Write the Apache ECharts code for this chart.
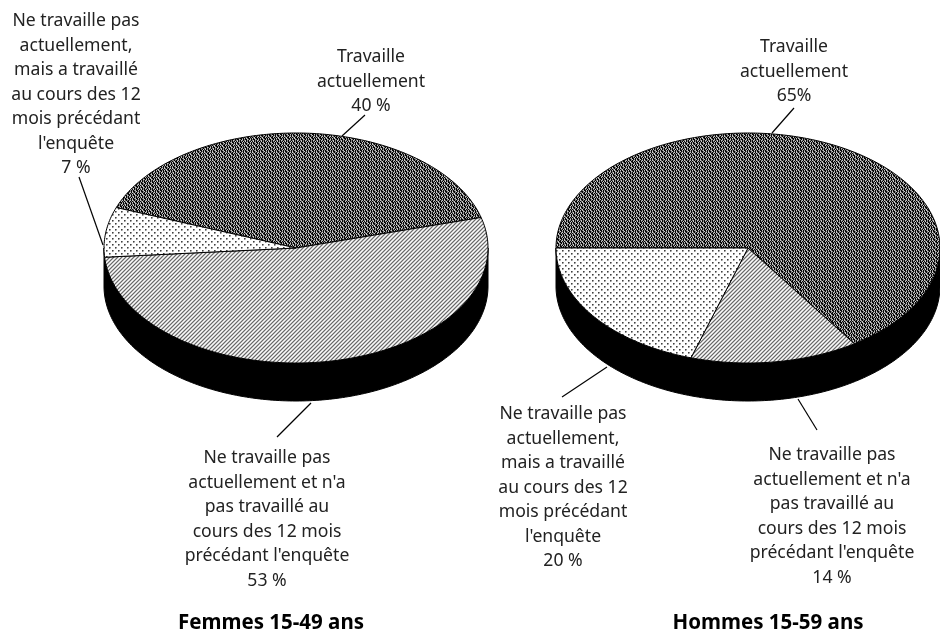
<!DOCTYPE html>
<html>
<head>
<meta charset="utf-8">
<style>
  html,body{margin:0;padding:0;background:#fff}
  #main{width:940px;height:632px}
</style>
<script src="https://cdn.jsdelivr.net/npm/echarts@6/dist/echarts.min.js"></script>
</head>
<body>
<div id="main"></div>
<script>
// order of the slices, clockwise
var categories = ['Travaille actuellement', 'Ne travaille pas actuellement et n\'a pas travaillé', 'Ne travaille pas actuellement, mais a travaillé']
var femmesValues = [40, 53, 7]
var femmesLabels = ['40 %', '53 %', '7 %']
// same slices, same order (printed values sum to 99)
var hommesValues = [65, 14, 20]
var hommesLabels = ['65%', '14 %', '20 %']
var groupTitles = ['Femmes 15-49 ans', 'Hommes 15-59 ans']

var textWork = 'Travaille\nactuellement\n'
var textNever = 'Ne travaille pas\nactuellement et n\'a\npas travaillé au\ncours des 12 mois\nprécédant l\'enquête\n'
var textPast = 'Ne travaille pas\nactuellement,\nmais a travaillé\nau cours des 12\nmois précédant\nl\'enquête\n'

var FONT = '"Noto Sans", sans-serif'
var RX = 192, RY = 115, DEPTH = 38

// builds a repeating fill from rows of characters, one character per pixel
function tile(rows, colors){
  var c = document.createElement('canvas')
  c.width = rows[0].length; c.height = rows.length
  var g = c.getContext('2d')
  rows.forEach(function(row, y){
    row.split('').forEach(function(ch, x){
      g.fillStyle = colors[ch]
      g.fillRect(x, y, 1, 1)
    })
  })
  return {image: c, repeat: 'repeat'}
}
var patDark = tile([
  '.ab.ba.a',
  '.b.a.ab.',
  '..a.b.ba',
  'a.b.a..b',
  '.ba.ab.a',
  '.a.b.b.a',
  '..b.a.ab',
  'b.a.b..a'
], {'.': '#050505', a: '#808080', b: '#c8c8c8'})
var patHatch = tile([
  'wlDl',
  'lDlw',
  'Dlwl',
  'lwlD'
], {w: '#fbfbfb', l: '#c4c4c4', D: '#6a6a6a'})
var patDots = tile([
  'wwwwww',
  'wDmwww',
  'wmnwww',
  'wwwwww',
  'wwwwDm',
  'wwwwmn'
], {w: '#fff', D: '#404040', m: '#8c8c8c', n: '#c8c8c8'})
var patterns = [patDark, patHatch, patDots]

function arc(cx, cy, from, to){
  var pts = [], n = Math.max(2, Math.ceil(Math.abs(to - from)))
  for(var i = 0; i <= n; i++){
    var a = (from + (to - from) * i / n) * Math.PI / 180
    pts.push([cx + RX * Math.cos(a), cy + RY * Math.sin(a)])
  }
  return pts
}

function pieSeries(values, cx, cy, startAngle){
  var total = values.reduce(function(a, b){return a + b}, 0)
  return {
    type: 'custom',
    coordinateSystem: 'none',
    silent: true,
    animation: false,
    data: values,
    renderItem: function(params, api){
      var before = 0
      for(var i = 0; i < params.dataIndex; i++) before += values[i]
      var a0 = startAngle + before / total * 360
      var a1 = a0 + api.value(0) / total * 360
      var children = []
      if(params.dataIndex == 0){
        var side = arc(cx, cy, 0, 180).concat(arc(cx, cy + DEPTH, 180, 0))
        children.push({type: 'polygon', shape: {points: side}, style: {fill: '#000', stroke: '#000', lineWidth: 1}})
      }
      children.push({
        type: 'polygon',
        shape: {points: [[cx, cy]].concat(arc(cx, cy, a0, a1))},
        style: {fill: patterns[params.dataIndex], stroke: '#000', lineWidth: 1}
      })
      return {type: 'group', children: children}
    }
  }
}

function label(text, x, y){
  return {type: 'text', silent: true, style: {
    text: text, x: x, y: y, align: 'center', verticalAlign: 'top',
    font: '17.6px ' + FONT, lineHeight: 24.5, fill: '#222'
  }}
}
function leader(x1, y1, x2, y2){
  return {type: 'line', silent: true, shape: {x1: x1, y1: y1, x2: x2, y2: y2}, style: {stroke: '#000', lineWidth: 1.2}}
}
function heading(text, x){
  return {type: 'text', silent: true, style: {
    text: text, x: x, y: 623, align: 'center', verticalAlign: 'middle',
    font: 'bold 20.5px ' + FONT, fill: '#000'
  }}
}

var chart = echarts.init(document.getElementById('main'))
chart.setOption({
  backgroundColor: '#fff',
  animation: false,
  series: [
    pieSeries(femmesValues, 296, 248, 200.6),
    pieSeries(hommesValues, 748, 248, 180)
  ],
  graphic: [
    label(textPast + femmesLabels[2], 76, 9),
    label(textWork + femmesLabels[0], 371, 45),
    label(textNever + femmesLabels[1], 267, 446),
    label(textWork + hommesLabels[0], 794, 35),
    label(textPast + hommesLabels[2], 563, 402),
    label(textNever + hommesLabels[1], 832, 443),
    leader(365, 115, 342, 136),
    leader(79, 177, 103, 245),
    leader(311, 403, 277, 437),
    leader(794, 108, 772, 133),
    leader(607, 367, 562, 397),
    leader(798, 399, 817, 430),
    heading(groupTitles[0], 271),
    heading(groupTitles[1], 768)
  ]
})
</script>
</body>
</html>
